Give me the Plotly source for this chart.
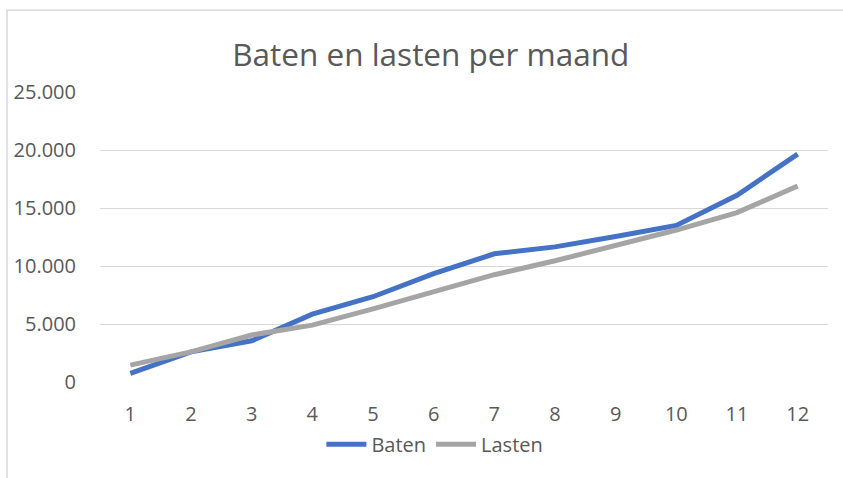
import plotly.graph_objects as go

maanden = [1, 2, 3, 4, 5, 6, 7, 8, 9, 10, 11, 12]
baten = [750, 2600, 3550, 5850, 7350, 9350, 11050, 11650, 12550, 13500, 16100, 19650]
lasten = [1450, 2600, 4050, 4900, 6300, 7750, 9250, 10450, 11750, 13100, 14600, 16900]

FONT = "Open Sans"
TXT = "#595959"

fig = go.Figure()
fig.add_trace(go.Scatter(x=maanden, y=baten, mode="lines", name="Baten",
                         line=dict(color="#4472C4", width=5)))
fig.add_trace(go.Scatter(x=maanden, y=lasten, mode="lines", name="Lasten",
                         line=dict(color="#A5A5A5", width=5)))

fig.update_layout(
    width=843, height=478,
    margin=dict(l=100, r=15, t=92, b=95.5),
    paper_bgcolor="white", plot_bgcolor="white",
    separators=",.",
    font=dict(family=FONT, color=TXT, size=20),
    title=dict(text="Baten en lasten per maand", x=0.511, xanchor="center",
               y=1 - 55 / 478, yanchor="middle",
               font=dict(family=FONT, size=31.5, color=TXT)),
    showlegend=True,
    legend=dict(orientation="h", x=0.46, xanchor="center", y=-0.215, yanchor="middle",
                font=dict(size=20, color=TXT), itemwidth=40, traceorder="normal"),
    xaxis=dict(range=[0.5, 12.5], tickmode="array", tickvals=maanden,
               ticktext=[str(m) for m in maanden], showgrid=False, zeroline=False,
               showline=False, ticks="", ticklabelstandoff=18,
               tickfont=dict(size=20, color=TXT)),
    yaxis=dict(range=[0, 25000], tickvals=[0, 5000, 10000, 15000, 20000, 25000],
               tickformat=",d", showgrid=True, gridcolor="#D9D9D9", gridwidth=1,
               zeroline=False, showline=False, ticks="", ticklabelstandoff=23,
               tickfont=dict(size=20, color=TXT)),
    shapes=[dict(type="rect", xref="paper", yref="paper",
                 x0=(7 - 100) / 728, x1=1.2, y0=-0.6, y1=(382.5 - 10) / 290.5,
                 line=dict(color="#D9D9D9", width=1.5), fillcolor="rgba(0,0,0,0)",
                 layer="below")],
)

fig.write_html("out.html", config={"displayModeBar": False},
               post_script="document.body.style.margin='0';")
